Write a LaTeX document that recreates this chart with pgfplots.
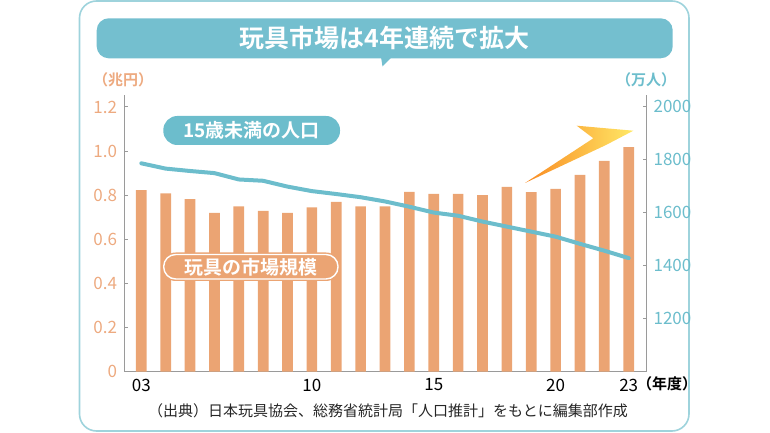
\documentclass[border=0pt]{standalone}
\usepackage{fontspec}
\setmainfont{Noto Sans CJK JP}[BoldFont={Noto Sans CJK JP Bold}]
\usepackage{pgfplots}
\pgfplotsset{compat=1.18}

\definecolor{barorange}{HTML}{EBA473}
\definecolor{tickorange}{HTML}{EDAA80}
\definecolor{lineteal}{HTML}{6CBDCC}
\definecolor{bannerteal}{HTML}{74BFCF}
\definecolor{frameteal}{HTML}{9ED3DC}
\definecolor{axisgray}{HTML}{9A9A9A}

\pgfplotstableread{
year market
2003 0.823
2004 0.808
2005 0.782
2006 0.720
2007 0.750
2008 0.729
2009 0.720
2010 0.745
2011 0.770
2012 0.750
2013 0.750
2014 0.815
2015 0.806
2016 0.806
2017 0.800
2018 0.838
2019 0.814
2020 0.829
2021 0.892
2022 0.956
2023 1.018
}\market

\pgfplotstableread{
year pop
2003 1787
2004 1767
2005 1758
2006 1750
2007 1726
2008 1721
2009 1699
2010 1682
2011 1671
2012 1659
2013 1643
2014 1623
2015 1601
2016 1589
2017 1567
2018 1548
2019 1529
2020 1510
2021 1483
2022 1457
2023 1429
}\children

\begin{document}
\begin{tikzpicture}[x=0.5pt,y=0.5pt]
\useasboundingbox (0,0) rectangle (770,433);
% outer frame
\draw[frameteal, line width=0.8pt, rounded corners=8.5pt] (79.5,2) rectangle (689,432);
% title banner
\fill[bannerteal, rounded corners=6pt] (96.7,433-58.3) rectangle (672.7,433-18.3);
\fill[bannerteal] (381,433-57) -- (392,433-57) -- (382.5,433-66.5) -- cycle;
\node[white, font=\bfseries\fontsize{12.5}{13}\selectfont] at (384.7,433-38.5) {玩具市場は4年連続で拡大};

\coordinate (axo) at (124,61.3);

\pgfplotsset{common/.style={
  scale only axis, width=261.25pt, height=138.35pt,
  at={(axo)}, anchor=south west,
  xmin=2002.29, xmax=2023.73,
  /pgf/number format/assume math mode=true,
  /pgf/number format/1000 sep={},
  axis line style={axisgray, line width=0.5pt},
  tick style={axisgray, line width=0.5pt},
  major tick length=2pt,
}}

\begin{axis}[common,
  axis y line*=left, axis x line*=bottom,
  ymin=0, ymax=1.2544,
  ytick={0,0.2,0.4,0.6,0.8,1.0,1.2},
  yticklabels={0,0.2,0.4,0.6,0.8,1.0,1.2},
  yticklabel style={tickorange, font=\fontsize{8.5}{9}\selectfont},
  xtick={2003,2010,2015,2020,2023},
  xticklabels={03,10,15,20,23},
  xticklabel style={black, font=\fontsize{8.5}{9}\selectfont},
  x tick style={draw=none},
  ]
\addplot[ybar, bar width=5.35pt, bar shift=0pt, fill=barorange, draw=none] table[x=year, y=market] {\market};
\end{axis}

\begin{axis}[common,
  axis y line*=right, axis x line=none,
  ymin=1000, ymax=2045,
  ytick={1200,1400,1600,1800,2000},
  yticklabel style={lineteal, font=\fontsize{8.5}{9}\selectfont},
  ]
\addplot[lineteal, line width=2pt, line join=round, line cap=round, mark=none] table[x=year, y=pop] {\children};
\end{axis}

% axis unit labels
\node[tickorange, font=\bfseries\fontsize{7.5}{8}\selectfont] at (123,433-80) {（兆円）};
\node[lineteal, font=\bfseries\fontsize{7.5}{8}\selectfont] at (646,433-80) {（万人）};
\node[black, font=\bfseries\fontsize{7.5}{8}\selectfont] at (667,433-383.5) {（年度）};

% series labels
\fill[lineteal, rounded corners=7pt] (163.3,433-145) rectangle (340,433-116);
\node[white, font=\bfseries\fontsize{9.5}{10}\selectfont] at (251.6,433-130.5) {15歳未満の人口};
\fill[barorange, rounded corners=7pt] (161.7,433-281) rectangle (340,433-252.5);
\draw[white, line width=0.7pt, rounded corners=6pt] (163.7,433-279) rectangle (338,433-254.5);
\node[white, font=\bfseries\fontsize{9.5}{10}\selectfont] at (250.8,433-266.8) {玩具の市場規模};

% rising arrow
\shade[left color=orange!70!barorange, right color=yellow!70!orange!60]
  (525,433-183) -- (593.3,433-138.3) -- (576.7,433-125.7) -- (633.3,433-130.7) -- (606,433-145) -- cycle;

% source
\node[black!85, font=\fontsize{7.5}{8}\selectfont] at (388,433-411) {（出典）日本玩具協会、総務省統計局「人口推計」をもとに編集部作成};
\end{tikzpicture}
\end{document}
